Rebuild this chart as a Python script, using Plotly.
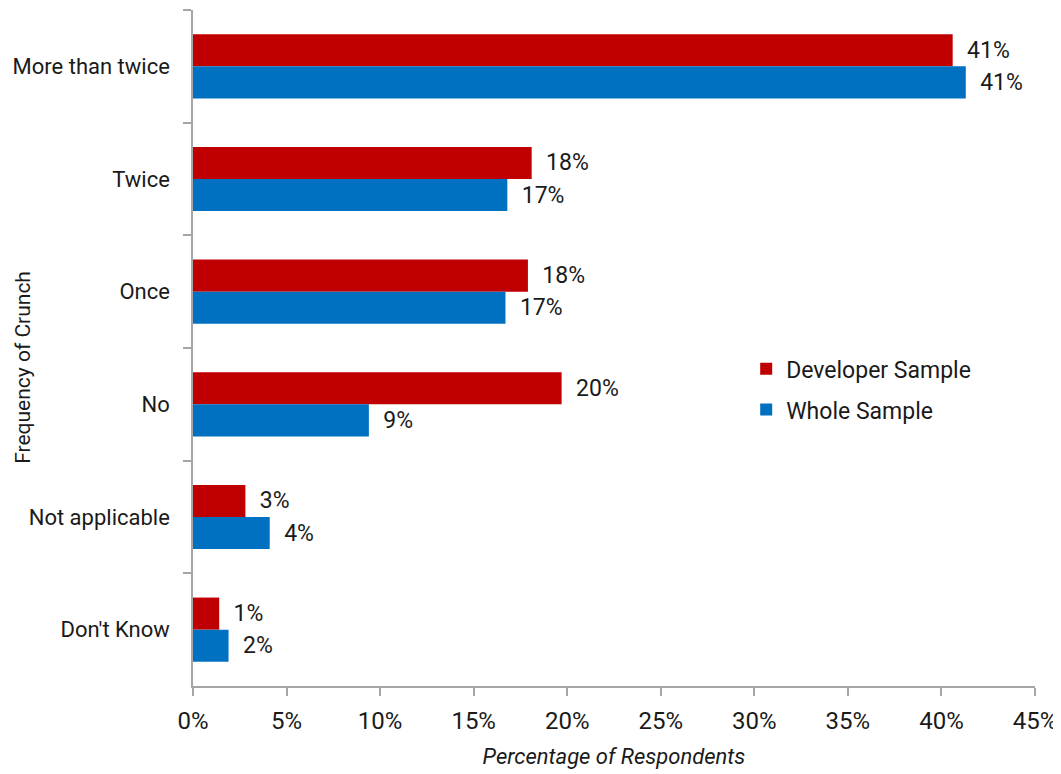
import plotly.graph_objects as go

categories = ["More than twice", "Twice", "Once", "No", "Not applicable", "Don't Know"]
developer = [40.6, 18.1, 17.9, 19.7, 2.8, 1.4]
whole = [41.3, 16.8, 16.7, 9.4, 4.1, 1.9]
series_names = ["Developer Sample", "Whole Sample"]
colors = ["#C00000", "#0070C0"]
x_ticks = [0, 5, 10, 15, 20, 25, 30, 35, 40, 45]
x_tick_labels = [f"{v}%" for v in x_ticks]

FONT = "Liberation Sans Narrow, Arial Narrow, Roboto, Arial, sans-serif"

fig = go.Figure()
for name, vals, col in zip(series_names, [developer, whole], colors):
    fig.add_trace(go.Bar(
        y=categories, x=vals, name=name, orientation="h",
        legendgroup=name,
        marker=dict(color=col, line=dict(width=0)),
        text=[f"  {round(v)}%" for v in vals],
        textposition="outside",
        constraintext="none",
        textfont=dict(size=23, color="#1a1a1a", family=FONT),
        cliponaxis=False,
    ))

fig.update_layout(
    width=1061, height=774,
    barmode="group", bargap=0.43, bargroupgap=0,
    plot_bgcolor="white", paper_bgcolor="white",
    margin=dict(l=185, r=34, t=2, b=96, autoexpand=False),
    font=dict(family=FONT, size=23, color="#1a1a1a"),
    showlegend=True,
    legend=dict(x=0.657, y=0.439, xanchor="left", yanchor="middle",
                font=dict(size=23, family=FONT), bgcolor="rgba(0,0,0,0)",
                itemwidth=30, tracegroupgap=8),
    annotations=[dict(
        text="Frequency of Crunch", textangle=-90,
        xref="paper", yref="paper", x=-0.202, y=0.472,
        xanchor="center", yanchor="middle", showarrow=False,
        font=dict(size=21, family=FONT, color="#1a1a1a"),
    )],
)
fig.update_xaxes(
    range=[0, 45], tickvals=x_ticks, ticktext=x_tick_labels,
    showgrid=False, zeroline=False, automargin=False,
    showline=True, linecolor="#A6A6A6", linewidth=1.5,
    ticks="outside", ticklen=8, tickcolor="#A6A6A6", tickwidth=1.5,
    tickfont=dict(size=24, family=FONT),
    ticklabelstandoff=4,
    title=dict(text="<i>Percentage of Respondents</i>", font=dict(size=22, family=FONT), standoff=15),
)
fig.update_yaxes(
    autorange="reversed", categoryorder="array", categoryarray=categories,
    showgrid=False, zeroline=False, automargin=False,
    showline=True, linecolor="#A6A6A6", linewidth=1.5,
    ticks="outside", ticklen=8, tickcolor="#A6A6A6", tickwidth=1.5,
    tickson="boundaries",
    tickfont=dict(size=22, family=FONT),
    ticklabelstandoff=17,
)

fig.write_html("out.html")
